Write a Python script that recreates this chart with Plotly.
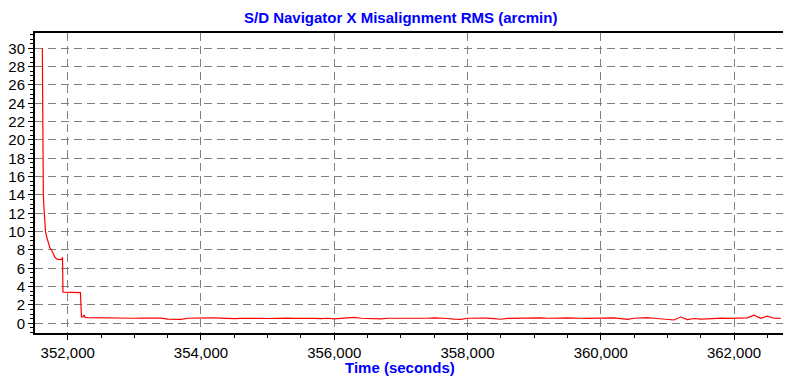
import plotly.graph_objects as go

# Early transient (time in seconds, misalignment RMS in arcmin)
t_start = [351619, 351623, 351629, 351634, 351644, 351652, 351667, 351689, 351712,
           351734, 351757, 351779, 351809, 351839, 351884, 351914, 351922, 351929,
           352184, 352191, 352206, 352230, 352245, 352260]
v_start = [30.0, 24.0, 17.5, 14.0, 12.5, 11.0, 10.0, 9.3, 8.7,
           8.2, 8.0, 7.6, 7.2, 7.0, 6.95, 7.0, 7.2, 3.4,
           3.4, 3.35, 0.7, 0.72, 0.9, 0.65]

# Steady-state portion, sampled every 100 s from 352300
t_tail_start = 352300
t_tail_step = 100
v_tail = [
    0.62, 0.60, 0.58, 0.60, 0.57, 0.56, 0.58,
    0.55, 0.57, 0.56, 0.54, 0.56, 0.45, 0.40, 0.42, 0.55, 0.54,
    0.56, 0.58, 0.60, 0.55, 0.53, 0.50, 0.54, 0.56, 0.55, 0.53,
    0.52, 0.55, 0.57, 0.56, 0.53, 0.55, 0.58, 0.54, 0.50, 0.55,
    0.48, 0.55, 0.58, 0.65, 0.55, 0.52, 0.45, 0.48, 0.55, 0.54,
    0.56, 0.55, 0.57, 0.56, 0.55, 0.58, 0.57, 0.52, 0.45, 0.43,
    0.55, 0.56, 0.58, 0.56, 0.50, 0.44, 0.54, 0.56, 0.57, 0.55,
    0.56, 0.58, 0.55, 0.53, 0.56, 0.58, 0.60, 0.55, 0.54, 0.56,
    0.52, 0.55, 0.58, 0.50, 0.42, 0.55, 0.57, 0.62, 0.55, 0.50,
    0.38, 0.36, 0.68, 0.40, 0.52, 0.45, 0.48, 0.55, 0.56, 0.54,
    0.55, 0.56, 0.60, 0.88, 0.55, 0.78, 0.55, 0.54,
]
t_tail = [t_tail_start + i * t_tail_step for i in range(len(v_tail))]

time = t_start + t_tail
values = v_start + v_tail

title_text = "S/D Navigator X Misalignment RMS (arcmin)"
xaxis_title = "Time (seconds)"
x_ticks = [352000, 354000, 356000, 358000, 360000, 362000]
y_ticks = list(range(0, 31, 2))

FONT = "Arial, Liberation Sans, sans-serif"
# The page body has an 8 px default margin; size the figure to fill the window.
OFF = 8
W, H = 791 - OFF, 377 - OFF
L, R, T, B = 35 - OFF, 6, 33 - OFF, 44
PW, PH = W - L - R, H - T - B


def px_x(x):  # screen px -> paper coordinate
    return (x - OFF - L) / PW


def px_y(y):
    return (H - B - (y - OFF)) / PH


fig = go.Figure()
fig.add_trace(go.Scatter(x=time, y=values, mode="lines",
                         line=dict(color="#FF0000", width=1.2), showlegend=False))

grid = dict(showgrid=True, gridcolor="#808080", gridwidth=1, griddash="8px,5px")

fig.update_layout(
    width=W, height=H,
    margin=dict(l=L, r=R, t=T, b=B, pad=0, autoexpand=False),
    paper_bgcolor="white", plot_bgcolor="white",
    font=dict(family=FONT, size=15, color="black"),
    xaxis=dict(range=[351509, 362765], tickvals=x_ticks, tickformat=",d",
               automargin=False,
               showline=True, linecolor="black", linewidth=2, mirror=True,
               ticks="outside", ticklen=5, tickcolor="black", tickwidth=1,
               minor=dict(dtick=500, tick0=352000, ticks="outside", ticklen=3,
                          tickcolor="black", showgrid=False),
               zeroline=False, tickfont=dict(size=15), **grid),
    yaxis=dict(range=[-1.06, 31.67], tickvals=y_ticks, automargin=False,
               showline=True, linecolor="black", linewidth=2,
               ticks="outside", ticklen=5, tickcolor="black", tickwidth=1,
               minor=dict(dtick=0.5, tick0=0, ticks="outside", ticklen=3,
                          tickcolor="black", showgrid=False),
               zeroline=False, tickfont=dict(size=15), **grid),
    annotations=[
        dict(text="<b>" + title_text + "</b>", x=px_x(400), y=px_y(17),
             xref="paper", yref="paper", xanchor="center", yanchor="middle",
             showarrow=False, font=dict(family=FONT, size=15, color="#0000FF")),
        dict(text="<b>" + xaxis_title + "</b>", x=px_x(400), y=px_y(367),
             xref="paper", yref="paper", xanchor="center", yanchor="middle",
             showarrow=False, font=dict(family=FONT, size=15, color="#0000FF")),
    ],
)

fig.write_html("out.html")
